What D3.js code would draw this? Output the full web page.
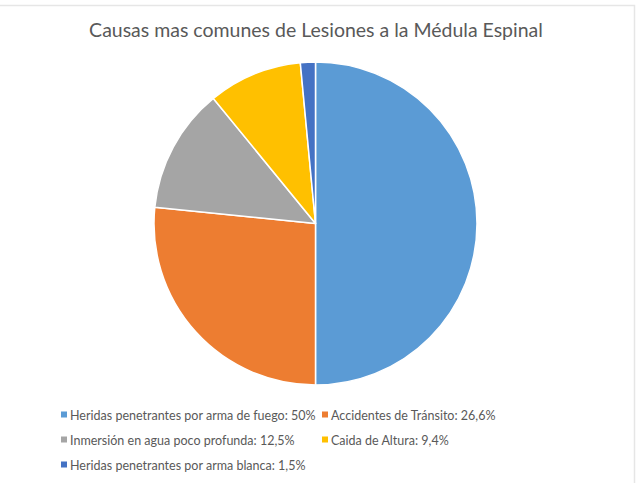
<!DOCTYPE html>
<html>
<head>
<meta charset="utf-8">
<script src="https://cdn.jsdelivr.net/npm/d3@7"></script>
<style>
  body { margin: 0; background: white; }
  text { font-family: Lato, "Open Sans", sans-serif; }
</style>
</head>
<body>
<div id="canvas"></div>
<script>
"use strict"

/* data */
let causas = ["Heridas penetrantes por arma de fuego", "Accidentes de Tránsito",
  "Inmersión en agua poco profunda", "Caida de Altura", "Heridas penetrantes por arma blanca"];
let porcentajes = [50, 26.6, 12.5, 9.4, 1.5];
let etiquetas = ["50%", "26,6%", "12,5%", "9,4%", "1,5%"];
let colores = ["#5B9BD5", "#ED7D31", "#A5A5A5", "#FFC000", "#4472C4"];

let svgWidth = 637;
let svgHeight = 483;

let cx = 315.5;
let cy = 223.5;
let radius = 161.5;

let svg = d3.select("#canvas")
  .append("svg")
  .attr("width", svgWidth)
  .attr("height", svgHeight);

// faint border of the chart area (only top and right show)
svg.append("rect")
  .attr("x", -10)
  .attr("y", 5.5)
  .attr("width", 644.5)
  .attr("height", 500)
  .attr("fill", "none")
  .attr("stroke", "#e6e6e6")
  .attr("stroke-width", 1.5);

// helper: fit a text to a width, returns the size used
function fitWidth(sel, target) {
  let w = sel.node().getComputedTextLength();
  let fs = parseFloat(sel.style("font-size"));
  let size = fs * target / w;
  sel.style("font-size", size + "px");
  return size;
}

// title
let title = svg.append("text")
  .attr("x", 316)
  .attr("y", 37)
  .style("text-anchor", "middle")
  .style("font-size", "19px")
  .style("fill", "#595959")
  .text("Causas mas comunes de Lesiones a la Médula Espinal");
fitWidth(title, 454);

// pie
let pie = d3.pie().sort(null).value(function (d) { return d; });
let arc = d3.arc().innerRadius(0).outerRadius(radius);

svg.append("g")
  .attr("transform", "translate(" + cx + "," + cy + ")")
  .selectAll("path")
  .data(pie(porcentajes))
  .join("path")
  .attr("d", arc)
  .attr("fill", function (d, i) { return colores[i]; })
  .attr("stroke", "white")
  .attr("stroke-width", 1.5)
  .attr("stroke-linejoin", "round");

// legend
let legendPos = [
  [61, 415], [322, 415],
  [61, 440], [322, 440],
  [61, 465]
];

let legendSize = 13;
for (let i = 0; i < causas.length; i++) {
  svg.append("rect")
    .attr("x", legendPos[i][0])
    .attr("y", legendPos[i][1] - 3.5)
    .attr("width", 6)
    .attr("height", 6)
    .attr("fill", colores[i]);

  let t = svg.append("text")
    .attr("x", legendPos[i][0] + 9)
    .attr("y", legendPos[i][1])
    .style("dominant-baseline", "central")
    .style("font-size", legendSize + "px")
    .style("fill", "#595959")
    .text(causas[i] + ": " + etiquetas[i]);
  if (i == 0) legendSize = fitWidth(t, 246);
}
</script>
</body>
</html>
